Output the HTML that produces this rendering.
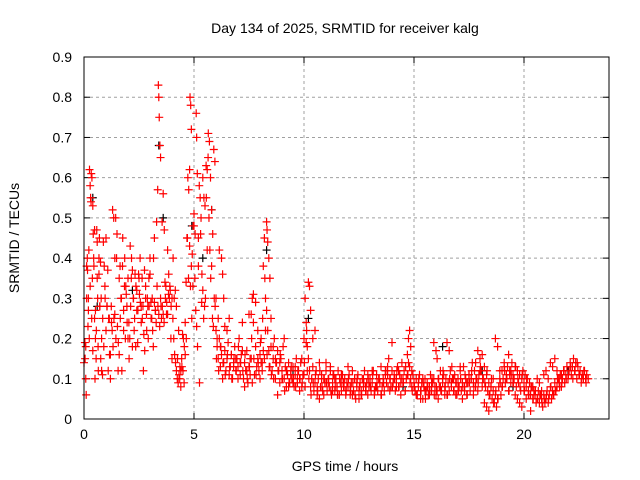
<!DOCTYPE html>
<html><head><meta charset="utf-8"><style>
html,body{margin:0;padding:0;background:#fff;}
svg{display:block;font-family:"Liberation Sans",sans-serif;}
</style></head><body>
<svg id="chart" width="640" height="480" viewBox="0 0 640 480">
<rect x="0" y="0" width="640" height="480" fill="#fff"/>
<g id="grid"></g>
<g id="ticks"></g>
<g id="marksBlack"></g>
<g id="marksRed"></g>
<rect x="84" y="57" width="525" height="362" fill="none" stroke="#000" stroke-width="1"/>
<text x="345" y="33" font-size="14" text-anchor="middle">Day 134 of 2025, SRMTID for receiver kalg</text>
<text x="345" y="471" font-size="14" text-anchor="middle">GPS time / hours</text>
<text x="19" y="238" font-size="14" text-anchor="middle" transform="rotate(-90 19 238)">SRMTID / TECUs</text>
</svg>
<script>
const xTicks=[0,5,10,15,20];
const yTicks=[0,0.1,0.2,0.3,0.4,0.5,0.6,0.7,0.8,0.9];
const yTickLabels=["0","0.1","0.2","0.3","0.4","0.5","0.6","0.7","0.8","0.9"];
const redT=[0.05,0.08,0.1,0.12,0.15,0.18,0.2,0.22,0.25,0.28,0.3,0.33,0.35,0.38,0.4,0.42,0.45,0.48,0.5,0.52,0.55,0.58,0.6,0.62,0.65,0.68,0.7,0.72,0.75,0.78,0.8,0.85,0.9,0.95,1.0,1.05,1.1,1.15,1.2,1.25,1.3,1.35,1.4,1.45,1.5,1.55,1.6,1.65,1.7,1.75,1.8,1.85,1.9,1.95,2.0,2.05,2.1,2.15,2.2,2.25,2.3,2.35,2.4,2.45,2.5,2.55,2.6,2.65,2.7,2.75,2.8,2.85,2.9,2.95,3.0,3.05,3.1,3.15,3.2,3.25,3.3,3.35,3.38,3.4,3.42,3.45,3.48,3.5,3.55,3.6,3.65,3.7,3.75,3.8,3.85,3.9,3.95,4.0,4.05,4.1,4.15,4.2,4.25,4.3,4.35,4.4,4.45,4.5,4.55,4.6,4.65,4.7,4.75,4.8,4.82,4.85,4.88,4.9,4.95,5.0,5.05,5.1,5.12,5.15,5.2,5.25,5.3,5.35,5.4,5.45,5.5,5.55,5.6,5.65,5.7,5.75,5.8,5.85,5.9,5.95,6.0,6.05,6.1,6.15,6.2,6.25,6.3,6.35,6.4,6.5,6.6,6.7,6.8,6.9,7.0,7.1,7.2,7.3,7.4,7.5,7.55,7.6,7.65,7.7,7.8,7.9,8.0,8.05,8.1,8.15,8.2,8.25,8.3,8.32,8.35,8.4,8.45,8.5,8.6,8.7,8.8,8.9,9.0,9.1,9.2,9.3,9.4,9.5,9.6,9.7,9.8,9.9,10.0,10.05,10.1,10.15,10.2,10.25,10.3,10.4,10.5,10.6,10.7,10.8,10.9,11.0,11.1,11.2,11.3,11.4,11.5,11.6,11.7,11.8,11.9,12.0,12.1,12.2,12.3,12.4,12.5,12.6,12.7,12.8,12.9,13.0,13.1,13.2,13.3,13.4,13.5,13.6,13.7,13.8,13.9,14.0,14.1,14.2,14.3,14.4,14.5,14.6,14.7,14.75,14.8,14.85,14.9,15.0,15.1,15.2,15.3,15.4,15.5,15.6,15.7,15.8,15.9,16.0,16.05,16.1,16.2,16.3,16.4,16.5,16.6,16.7,16.8,16.9,17.0,17.1,17.2,17.3,17.4,17.5,17.6,17.7,17.8,17.9,18.0,18.1,18.2,18.3,18.4,18.5,18.6,18.7,18.8,18.9,19.0,19.1,19.2,19.3,19.35,19.4,19.5,19.6,19.7,19.8,19.9,20.0,20.1,20.2,20.3,20.4,20.5,20.6,20.7,20.8,20.9,21.0,21.1,21.2,21.3,21.4,21.5,21.6,21.7,21.8,21.9,22.0,22.1,22.2,22.3,22.4,22.5,22.6,22.7,22.8];
const redV=[0.15,0.18,0.06,0.38,0.4,0.23,0.3,0.42,0.62,0.58,0.55,0.61,0.25,0.35,0.17,0.46,0.38,0.25,0.1,0.2,0.15,0.47,0.44,0.3,0.12,0.36,0.45,0.28,0.39,0.3,0.12,0.25,0.18,0.33,0.22,0.28,0.12,0.25,0.16,0.24,0.52,0.5,0.4,0.2,0.46,0.12,0.35,0.25,0.3,0.38,0.22,0.4,0.33,0.28,0.2,0.15,0.43,0.35,0.37,0.3,0.25,0.18,0.32,0.27,0.35,0.4,0.28,0.25,0.12,0.37,0.3,0.22,0.28,0.35,0.4,0.25,0.3,0.18,0.45,0.27,0.49,0.57,0.83,0.8,0.75,0.68,0.65,0.28,0.49,0.56,0.47,0.3,0.26,0.42,0.36,0.33,0.2,0.15,0.4,0.3,0.32,0.28,0.15,0.22,0.1,0.08,0.13,0.12,0.09,0.16,0.2,0.45,0.35,0.62,0.8,0.78,0.72,0.25,0.33,0.51,0.46,0.76,0.7,0.61,0.38,0.09,0.46,0.29,0.6,0.55,0.53,0.63,0.42,0.71,0.69,0.6,0.52,0.46,0.67,0.64,0.3,0.2,0.25,0.42,0.18,0.4,0.36,0.3,0.23,0.22,0.25,0.16,0.13,0.15,0.1,0.14,0.17,0.08,0.12,0.26,0.11,0.15,0.09,0.31,0.29,0.22,0.1,0.14,0.12,0.17,0.15,0.22,0.49,0.47,0.44,0.4,0.35,0.25,0.18,0.15,0.06,0.14,0.1,0.2,0.12,0.08,0.11,0.09,0.13,0.1,0.07,0.15,0.11,0.08,0.19,0.12,0.34,0.33,0.27,0.2,0.22,0.08,0.05,0.1,0.06,0.14,0.09,0.12,0.07,0.1,0.08,0.06,0.11,0.09,0.07,0.13,0.08,0.06,0.1,0.09,0.05,0.07,0.1,0.08,0.06,0.09,0.12,0.07,0.08,0.1,0.06,0.09,0.11,0.13,0.07,0.19,0.1,0.08,0.12,0.06,0.09,0.07,0.11,0.14,0.22,0.18,0.12,0.08,0.06,0.09,0.05,0.1,0.07,0.08,0.06,0.09,0.19,0.17,0.07,0.05,0.08,0.1,0.06,0.19,0.07,0.09,0.1,0.06,0.08,0.13,0.05,0.07,0.09,0.11,0.1,0.06,0.14,0.17,0.12,0.08,0.04,0.03,0.02,0.08,0.1,0.2,0.18,0.12,0.08,0.13,0.1,0.07,0.11,0.12,0.09,0.06,0.05,0.04,0.03,0.07,0.05,0.06,0.02,0.08,0.06,0.1,0.09,0.07,0.11,0.12,0.1,0.14,0.13,0.15,0.12,0.1,0.11];
// dense track A: starts at 0 h, every 0.04 h
const trackAStart=0, trackAStep=0.04;
const trackAV=[0.14,0.19,0.1,0.3,0.37,0.27,0.2,0.33,0.54,0.6,0.53,0.4,0.47,0.27,0.22,0.35,0.18,0.4,0.28,0.15,0.2,0.11,0.44,0.38,0.3,
0.45,0.28,0.37,0.25,0.16,0.1,0.28,0.22,0.18,0.25,0.26,0.5,0.4,0.23,0.19,0.16,0.38,0.3,0.12,0.45,0.27,0.33,0.2,0.31,0.24,
0.35,0.24,0.2,0.28,0.4,0.18,0.3,0.22,0.36,0.33,0.27,0.19,0.36,0.31,0.29,0.24,0.35,0.28,0.21,0.17,0.33,0.26,0.3,0.2,0.28,
0.36,0.29,0.25,0.22,0.4,0.29,0.27,0.24,0.33,0.28,0.26,0.23,0.3,0.25,0.28,0.26,0.24,0.34,0.33,0.29,0.26,0.31,0.3,0.32,0.28,
0.3,0.25,0.2,0.16,0.14,0.12,0.1,0.09,0.11,0.13,0.12,0.15,0.21,0.2,0.18,0.24,0.34,0.45,0.6,0.57,0.43,0.33,0.38,0.41,0.48,
0.48,0.35,0.27,0.23,0.18,0.45,0.58,0.55,0.5,0.36,0.32,0.25,0.28,0.3,0.55,0.62,0.65,0.5,0.42,0.35,0.38,0.25,0.23,0.3,0.28];
// dense track B: starts at 6 h, every 0.05 h
const trackBStart=6, trackBStep=0.05;
const trackBV=[0.22,0.18,0.15,0.2,0.13,0.16,0.1,0.14,0.17,0.12,0.15,0.19,0.11,0.13,0.16,0.1,0.14,0.18,0.12,0.15,
0.13,0.2,0.11,0.16,0.24,0.1,0.14,0.12,0.17,0.09,0.13,0.15,0.26,0.3,0.24,0.11,0.18,0.13,0.15,0.12,
0.16,0.2,0.14,0.38,0.45,0.3,0.27,0.22,0.17,0.13,0.18,0.12,0.15,0.2,0.1,0.14,0.17,0.12,0.09,0.15,
0.12,0.18,0.1,0.13,0.08,0.11,0.14,0.09,0.12,0.1,0.13,0.08,0.11,0.15,0.09,0.12,0.1,0.14,0.08,0.11,
0.2,0.3,0.24,0.18,0.15,0.12,0.08,0.1,0.13,0.07,0.09,0.12,0.06,0.1,0.14,0.08,0.11,0.07,0.1,0.09,
0.12,0.07,0.1,0.08,0.13,0.06,0.09,0.11,0.07,0.1,0.08,0.12,0.06,0.09,0.07,0.11,0.08,0.1,0.06,0.09,
0.08,0.11,0.06,0.09,0.12,0.07,0.1,0.05,0.08,0.11,0.07,0.09,0.06,0.1,0.08,0.12,0.07,0.09,0.11,0.08,
0.1,0.07,0.09,0.12,0.06,0.08,0.11,0.07,0.1,0.09,0.13,0.08,0.1,0.07,0.12,0.09,0.11,0.15,0.1,0.08,
0.12,0.09,0.11,0.07,0.1,0.13,0.08,0.11,0.09,0.14,0.1,0.12,0.07,0.1,0.16,0.2,0.13,0.1,0.08,0.11,
0.09,0.07,0.1,0.06,0.08,0.11,0.07,0.09,0.05,0.08,0.1,0.07,0.09,0.06,0.08,0.11,0.07,0.09,0.1,0.08,
0.06,0.15,0.1,0.08,0.12,0.07,0.09,0.11,0.08,0.1,0.06,0.09,0.17,0.12,0.08,0.1,0.07,0.11,0.09,0.06,
0.1,0.08,0.12,0.07,0.09,0.13,0.08,0.1,0.06,0.09,0.11,0.07,0.1,0.14,0.09,0.12,0.08,0.1,0.07,0.11,
0.15,0.12,0.16,0.1,0.13,0.08,0.11,0.07,0.09,0.06,0.08,0.05,0.07,0.04,0.06,0.03,0.05,0.08,0.1,0.06,
0.12,0.1,0.14,0.09,0.11,0.13,0.16,0.12,0.09,0.14,0.11,0.1,0.13,0.08,0.12,0.09,0.11,0.07,0.1,0.12,
0.09,0.11,0.08,0.1,0.07,0.09,0.06,0.08,0.05,0.07,0.06,0.04,0.05,0.07,0.04,0.06,0.05,0.03,0.06,0.04,
0.05,0.07,0.04,0.06,0.08,0.05,0.07,0.06,0.09,0.07,0.08,0.1,0.09,0.11,0.08,0.1,0.12,0.09,0.11,0.13,
0.1,0.12,0.14,0.11,0.13,0.15,0.12,0.14,0.1,0.13,0.11,0.12,0.09,0.11,0.1,0.12,0.1,0.11];
// dense track C: starts at 6.02 h, every 0.1 h
const trackCStart=6.02, trackCStep=0.1;
const trackCV=[0.15,0.12,0.18,0.14,0.11,0.16,0.13,0.1,0.15,0.12,
0.18,0.14,0.12,0.16,0.1,0.13,0.2,0.15,0.11,0.14,
0.19,0.25,0.35,0.16,0.13,0.11,0.1,0.14,0.12,0.16,
0.1,0.07,0.12,0.09,0.13,0.1,0.08,0.12,0.1,0.09,
0.14,0.22,0.1,0.06,0.09,0.11,0.07,0.12,0.08,0.1,
0.09,0.1,0.07,0.11,0.08,0.06,0.1,0.09,0.08,0.07,
0.1,0.07,0.09,0.06,0.1,0.08,0.06,0.09,0.07,0.1,
0.08,0.11,0.07,0.09,0.1,0.06,0.09,0.12,0.08,0.1,
0.08,0.1,0.12,0.08,0.1,0.09,0.13,0.11,0.09,0.07,
0.08,0.06,0.1,0.07,0.09,0.05,0.08,0.07,0.1,0.06,
0.08,0.1,0.07,0.12,0.08,0.06,0.1,0.13,0.07,0.09,
0.07,0.1,0.08,0.11,0.06,0.09,0.12,0.08,0.1,0.09,
0.13,0.1,0.09,0.12,0.06,0.1,0.04,0.07,0.05,0.09,
0.08,0.12,0.1,0.07,0.11,0.09,0.13,0.1,0.08,0.11,
0.07,0.1,0.06,0.08,0.05,0.07,0.05,0.06,0.04,0.05,
0.06,0.05,0.08,0.06,0.07,0.1,0.08,0.09,0.12,0.1,
0.11,0.13,0.1,0.12,0.14,0.11,0.1,0.12,0.09,0.1];
const blackT=[0.4,0.6,2.2,3.4,3.6,4.9,5.4,5.8,8.3,9.5,10.2,14.5,16.3,18.1,19.5,22.0];
const blackV=[0.55,0.28,0.32,0.68,0.5,0.48,0.4,0.52,0.42,0.12,0.25,0.08,0.18,0.12,0.08,0.12];

const L=84,R=609,T=57,B=419,XMAX=525/22,YMAX=0.9;
const sx=v=>L+v/XMAX*(R-L);
const sy=v=>B-v/YMAX*(B-T);
const NS="http://www.w3.org/2000/svg";
function mk(tag,attrs,parent){const e=document.createElementNS(NS,tag);for(const k in attrs)e.setAttribute(k,attrs[k]);parent.appendChild(e);return e;}
const grid=document.getElementById('grid'),ticks=document.getElementById('ticks');
xTicks.forEach(v=>{
  const x=sx(v);
  if(v>0){const g=mk('line',{x1:x,y1:T,x2:x,y2:B,stroke:'#a0a0a0','stroke-dasharray':'3,3'},grid);
  
  }
  mk('line',{x1:x,y1:B,x2:x,y2:B-6,stroke:'#000'},ticks);
  mk('line',{x1:x,y1:T,x2:x,y2:T+6,stroke:'#000'},ticks);
  const t=mk('text',{x:x,y:B+20,'font-size':14,'text-anchor':'middle'},ticks);
  t.textContent=v;
  
  
});
yTicks.forEach((v,i)=>{
  const y=sy(v);
  if(v>0&&v<YMAX){const g=mk('line',{x1:L,y1:y,x2:R,y2:y,stroke:'#a0a0a0','stroke-dasharray':'3,3'},grid);
  
  }
  mk('line',{x1:L,y1:y,x2:L+6,y2:y,stroke:'#000'},ticks);
  mk('line',{x1:R,y1:y,x2:R-6,y2:y,stroke:'#000'},ticks);
  const t=mk('text',{x:L-12,y:y+5,'font-size':14,'text-anchor':'end'},ticks);
  t.textContent=yTickLabels[i];
  
  
});
function plus(parent,t,v,col){
  const x=sx(t),y=sy(v);
  const p=mk('path',{d:`M${x-4},${y}h8M${x},${y-4}v8`,stroke:col,'stroke-width':1.2,fill:'none'},parent);
  
  
}
const gb=document.getElementById('marksBlack'),gr=document.getElementById('marksRed');
blackT.forEach((t,i)=>plus(gb,t,blackV[i],'#000'));
redT.forEach((t,i)=>plus(gr,t,redV[i],'#ff0000'));
trackAV.forEach((v,i)=>plus(gr,trackAStart+i*trackAStep,v,'#ff0000'));
trackBV.forEach((v,i)=>plus(gr,trackBStart+i*trackBStep,v,'#ff0000'));
trackCV.forEach((v,i)=>plus(gr,trackCStart+i*trackCStep,v,'#ff0000'));
</script>
</body></html>
